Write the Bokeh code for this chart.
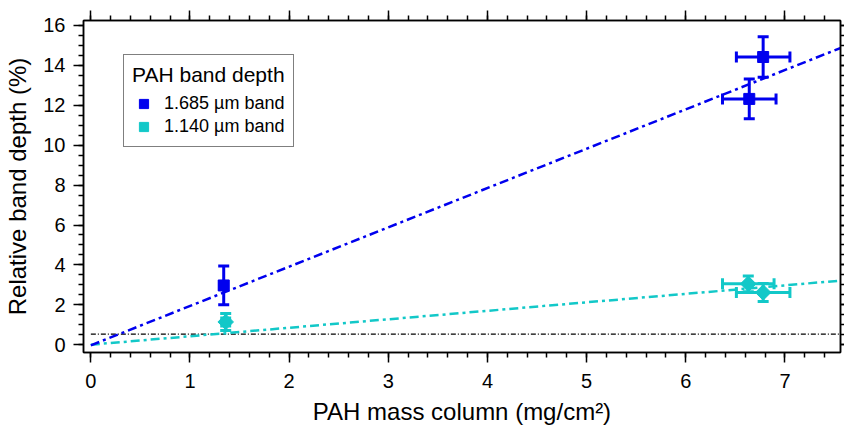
from bokeh.plotting import figure
from bokeh.models import (ColumnDataSource, Range1d, LinearAxis, SingleIntervalTicker,
                          Whisker, TeeHead, Legend, LegendItem, CustomJSTickFormatter)
from bokeh.embed import file_html
from bokeh.resources import INLINE

# ---------------- data ----------------
legend_title = "PAH band depth"
band1_label = "1.685 µm band"
band2_label = "1.140 µm band"

b1_x = [1.34, 6.64, 6.78]
b1_y = [2.97, 12.32, 14.42]
b1_xerr = [0.04, 0.27, 0.27]
b1_yerr = [0.97, 1.00, 1.02]

b2_x = [1.36, 6.63, 6.78]
b2_y = [1.14, 3.05, 2.62]
b2_xerr = [0.04, 0.26, 0.27]
b2_yerr = [0.43, 0.40, 0.45]

fit_x = [0.0, 7.6]
b1_fit_y = [-0.03, 14.95]
b2_fit_y = [0.0, 3.23]

limit_x = [0.0, 7.6]
limit_y = [0.53, 0.53]

x_label = "PAH mass column (mg/cm²)"
y_label = "Relative band depth (%)"

BLUE = "#0000ee"
CYAN = "#12c8c8"
FONT = "Liberation Sans"

# ---------------- figure ----------------
p = figure(width=844, height=431, output_backend="svg", toolbar_location=None,
           x_range=Range1d(-0.074, 7.56), y_range=Range1d(-0.39, 16.25),
           x_axis_location=None, y_axis_location=None)
p.min_border = 0
p.min_border_left = 83
p.min_border_top = 20
p.min_border_right = 4
p.min_border_bottom = 79
p.background_fill_color = "white"
p.border_fill_color = "white"
p.outline_line_color = "black"
p.outline_line_width = 1.5
p.xgrid.visible = False
p.ygrid.visible = False

xt = SingleIntervalTicker(interval=1, num_minor_ticks=5)
yt = SingleIntervalTicker(interval=2, num_minor_ticks=4)
blank = CustomJSTickFormatter(code="return ''")


def style_axis(ax, tick_out=10, minor_out=5, show_labels=True):
    ax.axis_line_color = "black"
    ax.axis_line_width = 1.5
    ax.major_tick_line_color = "black"
    ax.major_tick_line_width = 1.5
    ax.minor_tick_line_color = "black"
    ax.minor_tick_line_width = 1.5
    ax.major_tick_in = 0
    ax.major_tick_out = tick_out
    ax.minor_tick_in = 0
    ax.minor_tick_out = minor_out
    if show_labels:
        ax.major_label_text_font = FONT
        ax.major_label_text_font_size = "20px"
        ax.major_label_text_color = "black"
        ax.axis_label_text_font = FONT
        ax.axis_label_text_font_size = "24px"
        ax.axis_label_text_font_style = "normal"
        ax.axis_label_text_color = "black"
    else:
        ax.formatter = blank
        ax.major_label_text_font_size = "0px"
        ax.major_label_standoff = 0
        ax.axis_label_standoff = 0


bottom = LinearAxis(ticker=xt, axis_label=x_label)
style_axis(bottom)
bottom.major_label_standoff = 11
bottom.axis_label_standoff = 7
p.add_layout(bottom, "below")

left = LinearAxis(ticker=yt, axis_label=y_label)
style_axis(left)
left.major_label_standoff = 8
left.axis_label_standoff = 9
p.add_layout(left, "left")

top = LinearAxis(ticker=xt)
style_axis(top, show_labels=False)
p.add_layout(top, "above")

right = LinearAxis(ticker=yt)
style_axis(right, tick_out=4, minor_out=4, show_labels=False)
p.add_layout(right, "right")

# ---------------- lines ----------------
p.line(limit_x, limit_y, line_color="black", line_width=1.2, line_dash="5 2 1 2")
p.line(fit_x, b2_fit_y, line_color=CYAN, line_width=2.5, line_dash="9 4 3 4")
p.line(fit_x, b1_fit_y, line_color=BLUE, line_width=2.5, line_dash="9 4 3 4")

# ---------------- error bars ----------------
def add_errors(xs, ys, xerr, yerr, color):
    src = ColumnDataSource(dict(
        x=xs, y=ys,
        xl=[a - e for a, e in zip(xs, xerr)], xu=[a + e for a, e in zip(xs, xerr)],
        yl=[a - e for a, e in zip(ys, yerr)], yu=[a + e for a, e in zip(ys, yerr)],
    ))
    wy = Whisker(source=src, base="x", lower="yl", upper="yu", dimension="height",
                 line_color=color, line_width=3,
                 upper_head=TeeHead(size=11, line_color=color, line_width=3),
                 lower_head=TeeHead(size=11, line_color=color, line_width=3))
    wx = Whisker(source=src, base="y", lower="xl", upper="xu", dimension="width",
                 line_color=color, line_width=3,
                 upper_head=TeeHead(size=11, line_color=color, line_width=3),
                 lower_head=TeeHead(size=11, line_color=color, line_width=3))
    p.add_layout(wy)
    p.add_layout(wx)
    return src


s1 = add_errors(b1_x, b1_y, b1_xerr, b1_yerr, BLUE)
s2 = add_errors(b2_x, b2_y, b2_xerr, b2_yerr, CYAN)

r1 = p.scatter("x", "y", source=s1, marker="square", size=11,
               fill_color=BLUE, line_color=BLUE)
r2 = p.scatter("x", "y", source=s2, marker="square", size=11, angle=0.785398,
               fill_color=CYAN, line_color=CYAN)

# ---------------- legend ----------------
legend = Legend(items=[LegendItem(label=band1_label, renderers=[r1]),
                       LegendItem(label=band2_label, renderers=[r2])],
                title=legend_title, location=(40, 205))
legend.title_text_font = FONT
legend.title_text_font_size = "21px"
legend.title_text_font_style = "normal"
legend.title_text_color = "black"
legend.title_standoff = 5
legend.label_text_font = FONT
legend.label_text_font_size = "18px"
legend.label_text_color = "black"
legend.label_height = 18
legend.glyph_width = 23
legend.glyph_height = 23
legend.spacing = -3
legend.label_standoff = 9
legend.padding = 8
legend.border_line_color = "black"
legend.border_line_width = 1.5
legend.background_fill_alpha = 1
p.add_layout(legend)

open("out.html", "w").write(file_html(p, INLINE))
